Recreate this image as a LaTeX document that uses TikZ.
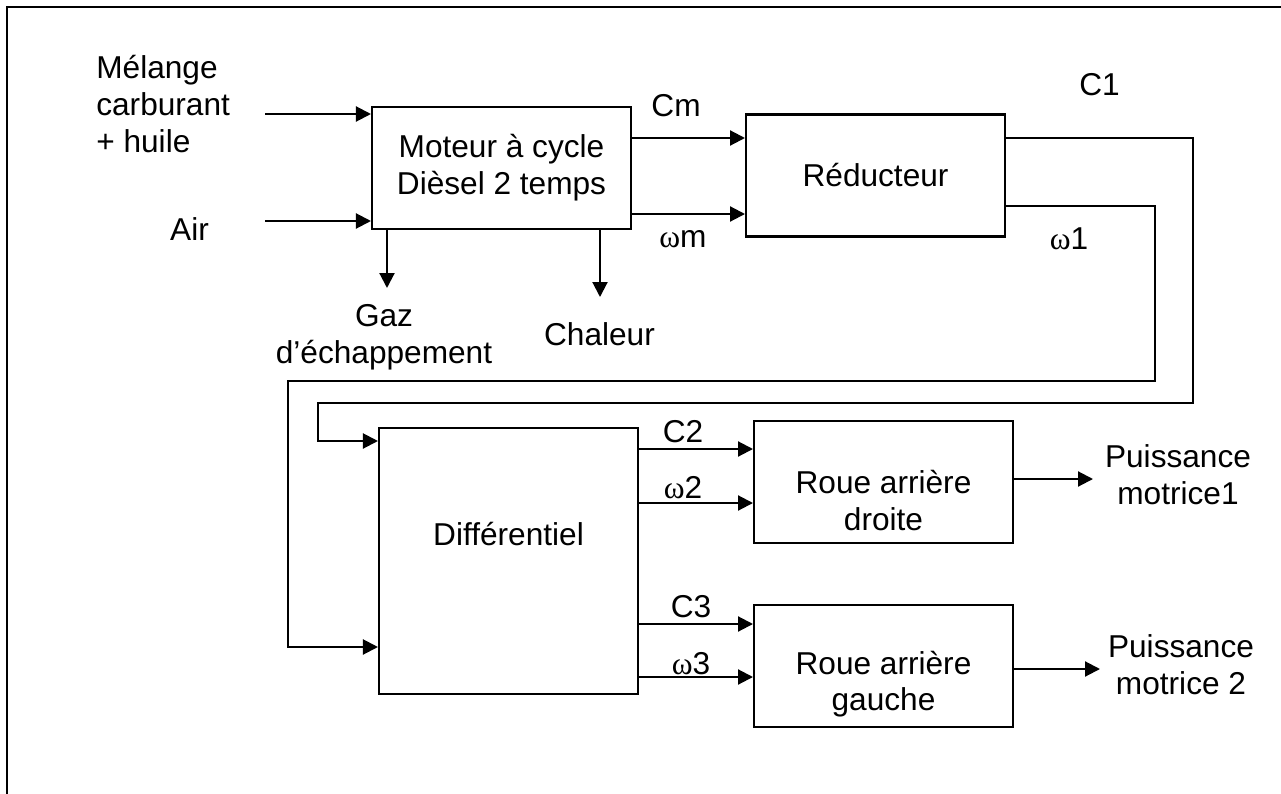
\documentclass[tikz,border=0pt]{standalone}
\usepackage{fontspec}
\setmainfont{Liberation Sans}
\newfontfamily\greekfont{Liberation Serif}
\usetikzlibrary{arrows.meta, positioning}

\begin{document}
\begin{tikzpicture}[
    x=0.02cm, y=-0.02cm,
    txt/.style={align=center, font=\fontsize{18}{21}\selectfont},
    bloc/.style={rectangle, draw=black, line width=1.2pt, minimum width=5.18cm, minimum height=2.44cm, txt},
    lbl/.style={inner sep=0pt, txt},
    arrow/.style={-{Triangle[length=0.3cm, width=0.3cm]}, line width=1.2pt, draw=black},
    frame/.style={line width=1.6pt, draw=black}
]
\useasboundingbox (0,0) rectangle (1281,794);

% Frame (only left and top edges)
\draw[frame] (7,794) |- (1281,7);

% Top: engine and reducer
\node[bloc] (moteur) at (501.5,168) {Moteur à cycle\\Dièsel 2 temps};
\node[bloc, right=2.26cm of moteur, yshift=-0.15cm] (reducteur) {Réducteur};

% Bottom: differential and wheels
\node[bloc, minimum height=5.32cm, below=3.94cm of moteur, xshift=0.14cm] (diff) {};
\node[bloc, right=2.28cm of diff.north east, anchor=north west, yshift=0.14cm] (droite) {};
\node[bloc, below=1.2cm of droite] (gauche) {};

\node[lbl] (diff-txt) at ([yshift=0.54cm]diff.center) {Différentiel};
\node[lbl] (droite-txt) at ([yshift=-0.37cm]droite.center) {Roue arrière\\droite};
\node[lbl] (gauche-txt) at ([yshift=-0.36cm]gauche.center) {Roue arrière\\gauche};

% Inputs
\coordinate (in1) at (265,114);
\coordinate (in2) at (265,221);
\node[lbl, align=left, anchor=west] (melange) at (96,104) {Mélange\\carburant\\+ huile};
\node[lbl] (air) at (189.5,229) {Air};

% Losses
\coordinate (gaz-end) at (387,288);
\coordinate (chaleur-end) at (600,297);
\node[lbl] (gaz) at (384,337) {Gaz\\d’échappement};
\node[lbl] (chaleur) at (599.5,334) {Chaleur};

% Flow labels
\node[lbl] (cm) at (676,106) {Cm};
\node[lbl] (wm) at (683,239) {{\greekfont ω}m};
\node[lbl] (c1) at (1099.5,85) {C1};
\node[lbl] (w1) at (1069,239) {{\greekfont ω}1};
\node[lbl] (c2) at (683,432) {C2};
\node[lbl] (w2) at (683,488) {{\greekfont ω}2};
\node[lbl] (c3) at (691,607) {C3};
\node[lbl] (w3) at (691,664) {{\greekfont ω}3};

% Outputs
\coordinate (out1) at (1093,479);
\coordinate (out2) at (1100,669);
\node[lbl] (puiss1) at (1178,475) {Puissance\\motrice1};
\node[lbl] (puiss2) at (1181,665) {Puissance\\motrice 2};

% Connectors
\draw[arrow] (in1) -- (in1 -| moteur.west);
\draw[arrow] (in2) -- (in2 -| moteur.west);
\draw[arrow] (moteur.south -| gaz-end) -- (gaz-end);
\draw[arrow] (moteur.south -| chaleur-end) -- (chaleur-end);

\draw[arrow] (moteur.east |- 0,138) -- (reducteur.west |- 0,138);
\draw[arrow] (moteur.east |- 0,214) -- (reducteur.west |- 0,214);

\draw[arrow] (reducteur.east |- 0,138) -| (1193,403) -| (318,441) -- (diff.west |- 0,441);
\draw[arrow] (reducteur.east |- 0,206) -| (1155,381) -| (288,647) -- (diff.west |- 0,647);

\draw[arrow] (diff.east |- 0,449) -- (droite.west |- 0,449);
\draw[arrow] (diff.east |- 0,503) -- (droite.west |- 0,503);
\draw[arrow] (diff.east |- 0,624) -- (gauche.west |- 0,624);
\draw[arrow] (diff.east |- 0,677) -- (gauche.west |- 0,677);

\draw[arrow] (droite.east |- out1) -- (out1);
\draw[arrow] (gauche.east |- out2) -- (out2);

\end{tikzpicture}
\end{document}
